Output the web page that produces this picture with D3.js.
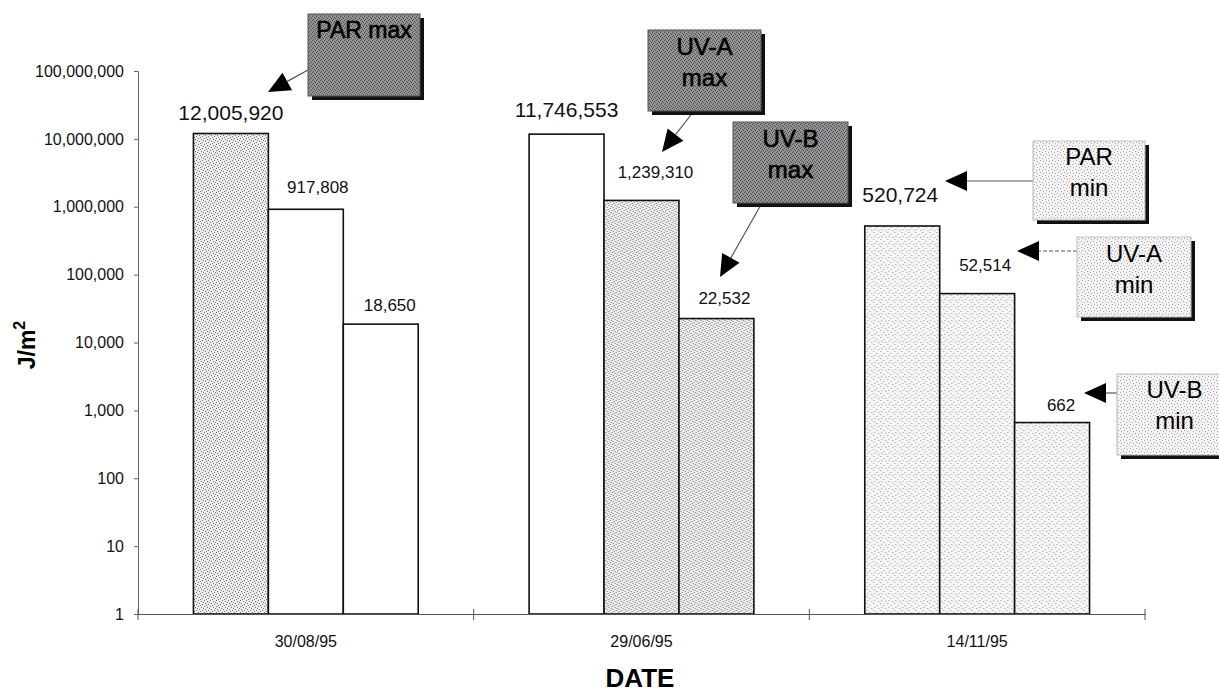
<!DOCTYPE html>
<html>
<head>
<meta charset="utf-8">
<script src="https://cdn.jsdelivr.net/npm/d3@7"></script>
<style>
  body { margin: 0; background: #fff; }
  svg { font-family: "Liberation Sans", Arial, sans-serif; }
  .ylab text { font-size: 16px; fill: #111; }
  .xlab text { font-size: 16px; fill: #111; }
</style>
</head>
<body>
<div id="chart"></div>
<script>
// data
const dates = ["30/08/95", "29/06/95", "14/11/95"];
const series = ["PAR", "UV-A", "UV-B"];
const parValues = [12005920, 11746553, 520724];
const uvaValues = [917808, 1239310, 52514];
const uvbValues = [18650, 22532, 662];
const yTicks = [1, 10, 100, 1000, 10000, 100000, 1000000, 10000000, 100000000];

const width = 1219, height = 693;
const plot = {left: 138, right: 1145, top: 71, bottom: 614};

const svg = d3.select("#chart").append("svg")
    .attr("width", width)
    .attr("height", height);

// fill patterns (stipple like the scanned original)
const defs = svg.append("defs");
function stipple(id, bg, dot, step, pts) {
    let p = defs.append("pattern")
        .attr("id", id)
        .attr("patternUnits", "userSpaceOnUse")
        .attr("width", step).attr("height", step);
    p.append("rect").attr("width", step).attr("height", step).attr("fill", bg);
    pts.forEach(q => p.append("rect")
        .attr("x", q[0]).attr("y", q[1])
        .attr("width", 1).attr("height", 1)
        .attr("fill", dot));
}
stipple("lightDots", "#f5f5f5", "#9a9a9a", 7, [[1,1],[4,3],[2,5],[6,6]]);
stipple("medDots", "#ededed", "#777", 6, [[0,0],[3,1],[1,3],[4,4],[5,2],[2,5]]);
stipple("darkBox", "#939393", "#505050", 4, [[0,0],[2,1],[1,3],[3,2]]);
stipple("lightBox", "#f3f3f3", "#a5a5a5", 6, [[1,1],[4,2],[2,4],[5,5]]);

// scales
const x0 = d3.scaleBand()
    .domain(dates)
    .range([plot.left, plot.right]);

const x1 = d3.scaleBand()
    .domain(series)
    .range([0, x0.bandwidth()])
    .paddingOuter(0.74);

const y = d3.scaleLog()
    .domain([1, 1e8])
    .range([plot.bottom, plot.top]);

const table = dates.map((d, i) => ({
    date: d,
    vals: [parValues[i], uvaValues[i], uvbValues[i]]
}));
const allSeries = [parValues, uvaValues, uvbValues];
const fmt = d3.format(",");

// y axis
const yAxis = svg.append("g")
    .attr("class", "ylab")
    .attr("transform", `translate(${plot.left},0)`)
    .call(d3.axisLeft(y).tickValues(yTicks).tickFormat(fmt).tickSize(4).tickPadding(10));
yAxis.select(".domain").attr("stroke", "#666");
yAxis.selectAll(".tick line").attr("stroke", "#666");

// bars
const groups = svg.selectAll(".grp").data(table).enter()
    .append("g")
    .attr("transform", d => `translate(${x0(d.date)},0)`);

groups.selectAll("rect").data(d => d.vals.map((v, k) => ({s: series[k], k: k, v: v})))
    .enter().append("rect")
    .attr("x", d => x1(d.s))
    .attr("y", d => y(d.v))
    .attr("width", x1.bandwidth())
    .attr("height", d => plot.bottom - y(d.v))
    .attr("fill", d => {
        let arr = allSeries[d.k];
        if (d.v === d3.max(arr)) return "url(#medDots)";
        if (d.v === d3.min(arr)) return "url(#lightDots)";
        return "#fff";
    })
    .attr("stroke", "#111")
    .attr("stroke-width", 1.6);

// value labels (small nudges so they sit where the original put them)
const nudge = {
    "12,005,920": [0, 1], "917,808": [12, -2], "18,650": [9, 1],
    "11,746,553": [0, -3], "1,239,310": [14, -8], "22,532": [8, -1],
    "520,724": [-2, -10], "52,514": [8, -9], "662": [9, 2]
};
groups.selectAll(".val").data(d => d.vals.map((v, k) => ({s: series[k], k: k, v: v})))
    .enter().append("text")
    .attr("x", d => x1(d.s) + x1.bandwidth() / 2 + (nudge[fmt(d.v)] || [0, 0])[0])
    .attr("y", d => y(d.v) - 14 + (nudge[fmt(d.v)] || [0, 0])[1])
    .attr("text-anchor", "middle")
    .style("font-size", d => d.k === 0 ? "21px" : "17px")
    .style("fill", "#111")
    .text(d => fmt(d.v));

// x axis
const xAxis = svg.append("g")
    .attr("class", "xlab")
    .attr("transform", `translate(0,${plot.bottom})`)
    .call(d3.axisBottom(x0).tickSize(0).tickPadding(22));
xAxis.select(".domain").attr("stroke", "#555").attr("stroke-width", 1.2);
const bounds = dates.map(d => x0(d)).concat([plot.right]);
svg.selectAll(".btick").data(bounds).enter().append("line")
    .attr("x1", d => d).attr("x2", d => d)
    .attr("y1", plot.bottom - 5).attr("y2", plot.bottom + 6)
    .attr("stroke", "#555");

// axis titles
svg.append("text")
    .attr("x", 640).attr("y", 687)
    .attr("text-anchor", "middle")
    .style("font-size", "26px").style("font-weight", "bold")
    .text("DATE");

svg.append("text")
    .attr("transform", "translate(35,345) rotate(-90)")
    .attr("text-anchor", "middle")
    .style("font-size", "23px").style("font-weight", "bold")
    .html('J/m<tspan dy="-10" font-size="16px">2</tspan>');

// callouts
const callouts = [
    {lines: ["PAR max"], box: [308, 14, 112, 82], dark: true, from: [308, 70], tip: [268, 92], y0: 38},
    {lines: ["UV-A", "max"], box: [648, 30, 113, 81], dark: true, from: [694, 111], tip: [662, 152], y0: 55},
    {lines: ["UV-B", "max"], box: [733, 122, 115, 81], dark: true, from: [762, 203], tip: [720, 277], y0: 147},
    {lines: ["PAR", "min"], box: [1033, 141, 112, 79], dark: false, from: [1033, 181], tip: [945, 181], y0: 165},
    {lines: ["UV-A", "min"], box: [1077, 237, 114, 80], dark: false, from: [1077, 251], tip: [1017, 251], y0: 262, dash: true},
    {lines: ["UV-B", "min"], box: [1117, 374, 115, 81], dark: false, from: [1117, 393], tip: [1084, 393], y0: 398}
];

callouts.forEach(c => {
    const g = svg.append("g");
    const [bx, by, bw, bh] = c.box;
    // leader line + triangle head
    const dx = c.tip[0] - c.from[0], dy = c.tip[1] - c.from[1];
    const len = Math.sqrt(dx * dx + dy * dy);
    const ux = dx / len, uy = dy / len;
    const hl = 22, hw = 10;
    const bxp = c.tip[0] - ux * hl, byp = c.tip[1] - uy * hl;
    g.append("line")
        .attr("x1", c.from[0]).attr("y1", c.from[1])
        .attr("x2", bxp).attr("y2", byp)
        .attr("stroke", "#555").attr("stroke-width", 1.2)
        .attr("stroke-dasharray", c.dash ? "4,2" : null);
    g.append("path")
        .attr("d", `M${c.tip[0]},${c.tip[1]}L${bxp - uy * hw},${byp + ux * hw}L${bxp + uy * hw},${byp - ux * hw}Z`)
        .attr("fill", "#000");
    // shadow + box
    g.append("rect")
        .attr("x", bx + 4).attr("y", by + 4).attr("width", bw).attr("height", bh)
        .attr("fill", "#111");
    g.append("rect")
        .attr("x", bx).attr("y", by).attr("width", bw).attr("height", bh)
        .attr("fill", c.dark ? "url(#darkBox)" : "url(#lightBox)")
        .attr("stroke", c.dark ? "#555" : "#bbb");
    c.lines.forEach((t, i) => g.append("text")
        .attr("x", bx + bw / 2).attr("y", c.y0 + i * 31)
        .attr("text-anchor", "middle")
        .style("font-size", c.lines.length === 1 ? "23px" : "24px")
        .style("fill", "#000")
        .style("stroke", c.dark ? "#000" : "none")
        .style("stroke-width", c.dark ? 0.6 : 0)
        .text(t));
});
</script>
</body>
</html>
